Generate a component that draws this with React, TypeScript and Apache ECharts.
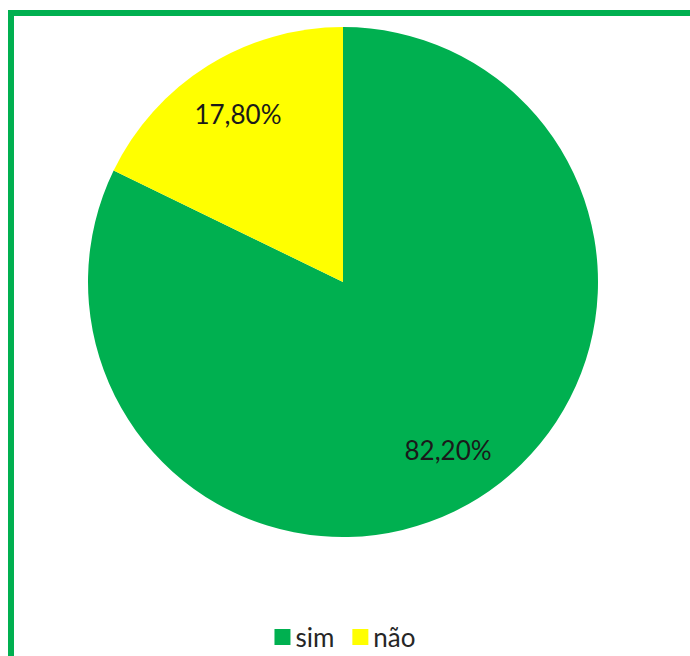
import React, { useEffect, useRef } from "react";
import * as echarts from "echarts";

const categories = ["sim", "não"];
const values = [82.2, 17.8];
const labels = ["82,20%", "17,80%"];
const colors = ["#00B050", "#FFFF00"];

export default function App() {
  const ref = useRef<HTMLDivElement>(null);
  useEffect(() => {
    if (!ref.current) return;
    const chart = echarts.init(ref.current, null, { renderer: "svg" });
    const data = categories.map((c, i) => ({
      name: c,
      value: values[i],
      itemStyle: { color: colors[i] },
    }));
    chart.setOption({
      animation: false,
      backgroundColor: "#ffffff",
      graphic: [
        {
          type: "rect",
          shape: { x: 11, y: 13, width: 1000, height: 1000 },
          style: { fill: "none", stroke: "#00B050", lineWidth: 6 },
          z: 100,
          silent: true,
        },
      ],
      legend: {
        left: "center",
        top: 619,
        icon: "rect",
        itemWidth: 16,
        itemHeight: 16,
        itemGap: 18,
        data: categories,
        textStyle: { fontFamily: "Lato", fontSize: 26, color: "#262626" },
      },
      series: [
        {
          type: "pie",
          center: [343, 282],
          radius: [0, 255],
          startAngle: 90,
          clockwise: true,
          label: { show: false },
          labelLine: { show: false },
          silent: true,
          data,
        },
        {
          type: "pie",
          center: [343, 282],
          radius: [136, 254],
          startAngle: 90,
          clockwise: true,
          silent: true,
          itemStyle: { color: "rgba(0,0,0,0)" },
          label: {
            show: true,
            position: "inside",
            fontFamily: "Lato",
            fontSize: 26,
            color: "#1a1a1a",
            formatter: (p: any) => labels[p.dataIndex],
          },
          labelLine: { show: false },
          legendHoverLink: false,
          data: categories.map((c, i) => ({
            name: c,
            value: values[i],
            itemStyle: { color: "rgba(0,0,0,0)" },
          })),
        },
      ],
    });
    return () => chart.dispose();
  }, []);
  return (
    <div
      ref={ref}
      style={{ position: "fixed", left: 0, top: 0, width: 690, height: 656 }}
    />
  );
}
